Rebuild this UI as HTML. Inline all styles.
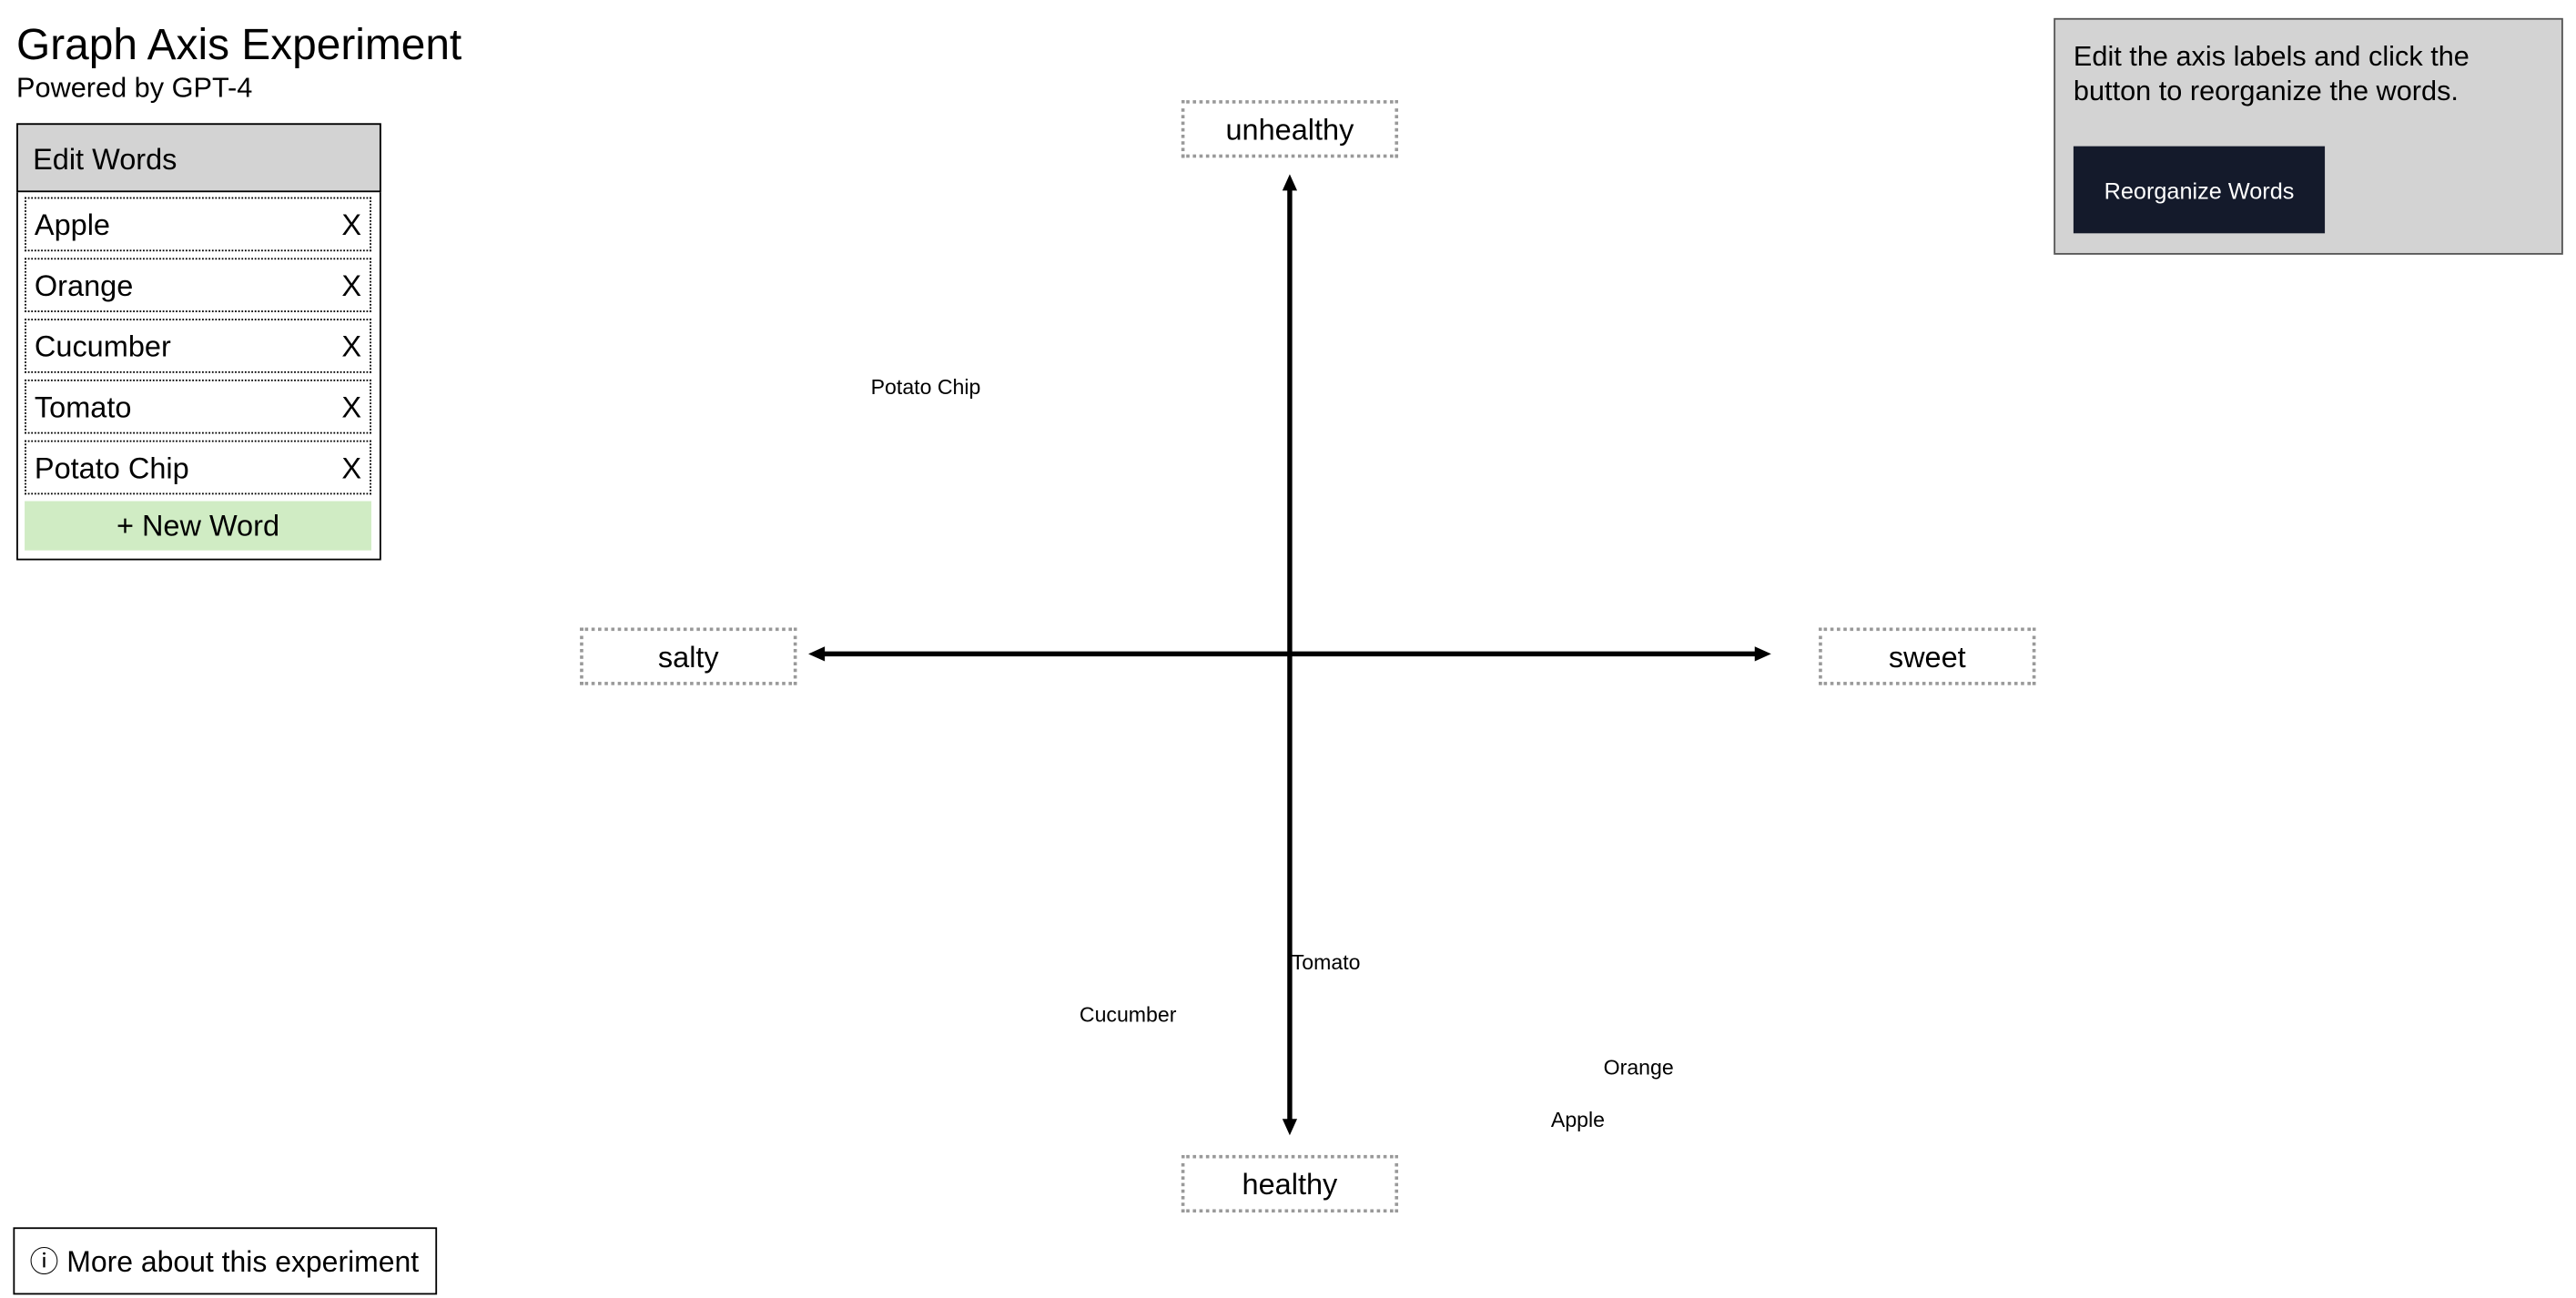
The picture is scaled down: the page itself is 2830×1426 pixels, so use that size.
<!DOCTYPE html>
<html><head><meta charset="utf-8"><style>
html,body{margin:0;padding:0;background:#fff;width:2830px;height:1426px;overflow:hidden}
#w{position:absolute;left:0;top:0;width:1568px;height:790px;transform:scale(1.805);transform-origin:0 0;font-family:"Liberation Sans",Arial,sans-serif;color:#000}
.a{position:absolute;box-sizing:border-box}
.item{position:absolute;left:15px;width:211px;height:33px;border:1px dotted #000;font-size:18px;line-height:33px;padding-left:5px;box-sizing:border-box}
.item span{position:absolute;right:5px;top:0}
.lab{position:absolute;width:132px;height:35px;border:2px dotted #999;box-sizing:border-box;font-size:18px;line-height:33px;text-align:center}
.wd{position:absolute;font-size:12.8px;line-height:15px;white-space:nowrap}
</style></head><body><div id="w">
<div class="a" style="left:10px;top:12px;font-size:26.5px;line-height:30px">Graph Axis Experiment</div>
<div class="a" style="left:10px;top:44px;font-size:17px;line-height:20px">Powered by GPT-4</div>
<div class="a" style="left:10px;top:75px;width:222px;height:266px;border:1.5px solid #000"></div>
<div class="a" style="left:10px;top:75px;width:222px;height:42px;border:1.5px solid #000;background:#d3d3d3;font-size:18px;line-height:42px;padding-left:9px">Edit Words</div>
<div class="item" style="top:120px">Apple<span>X</span></div>
<div class="item" style="top:157px">Orange<span>X</span></div>
<div class="item" style="top:194px">Cucumber<span>X</span></div>
<div class="item" style="top:231px">Tomato<span>X</span></div>
<div class="item" style="top:268px">Potato Chip<span>X</span></div>
<div class="a" style="left:15px;top:305px;width:211px;height:30px;background:#d0ecc4;font-size:18px;line-height:30px;text-align:center">+ New Word</div>
<div class="a" style="left:8px;top:747px;width:258px;height:41px;border:1.5px solid #000;font-size:17.7px;line-height:40px;padding-left:9px">ⓘ More about this experiment</div>
<div class="a" style="left:1250px;top:11px;width:310px;height:144px;border:1.5px solid #555;background:#d3d3d3"></div>
<div class="a" style="left:1262px;top:24px;width:290px;font-size:17px;line-height:21px">Edit the axis labels and click the button to reorganize the words.</div>
<div class="a" style="left:1262px;top:89px;width:153px;height:53px;background:#141a2b;color:#fff;font-size:14px;line-height:54px;text-align:center">Reorganize Words</div>
<div class="lab" style="left:719px;top:61px">unhealthy</div>
<div class="lab" style="left:353px;top:382px">salty</div>
<div class="lab" style="left:1107px;top:382px">sweet</div>
<div class="lab" style="left:719px;top:703px">healthy</div>
<svg class="a" style="left:0;top:0" width="1568" height="790">
<g stroke="#000" stroke-width="3" fill="none">
<line x1="785" y1="112" x2="785" y2="685"/>
<line x1="498" y1="398" x2="1072" y2="398"/>
</g>
<g fill="#000">
<polygon points="785,106 780.5,116 789.5,116"/>
<polygon points="785,691 780.5,681 789.5,681"/>
<polygon points="492,398 502,393.5 502,402.5"/>
<polygon points="1078,398 1068,393.5 1068,402.5"/>
</g>
</svg>
<div class="wd" style="left:530px;top:228px">Potato Chip</div>
<div class="wd" style="left:786px;top:578px">Tomato</div>
<div class="wd" style="left:657px;top:610px">Cucumber</div>
<div class="wd" style="left:976px;top:642px">Orange</div>
<div class="wd" style="left:944px;top:674px">Apple</div>
</div></body></html>
